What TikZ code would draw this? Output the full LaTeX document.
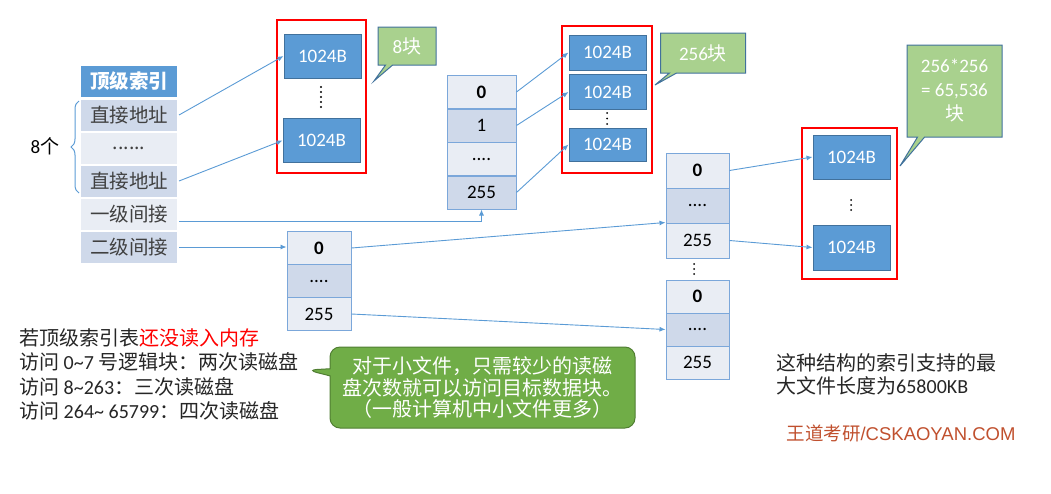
\documentclass[tikz,border=0pt]{standalone}
\usepackage{fontspec}
\setmainfont{Carlito}
\newfontfamily\cjk{Noto Sans CJK SC}
\newfontfamily\arial{Liberation Sans}
\usetikzlibrary{arrows.meta,shapes.callouts,decorations.pathreplacing,positioning}
\definecolor{blk}{HTML}{5B9BD5}
\definecolor{blkbd}{HTML}{41719C}
\definecolor{rowlite}{HTML}{E9EDF4}
\definecolor{rowdark}{HTML}{CFD9EA}
\definecolor{cellbd}{HTML}{7BA7DA}
\definecolor{notegreen}{HTML}{A9D18E}
\definecolor{tipgreen}{HTML}{70AD47}
\definecolor{tipbd}{HTML}{507E32}
\definecolor{wdred}{HTML}{C0502E}
\definecolor{ink}{HTML}{262626}
\begin{document}
\begin{tikzpicture}[x=1pt,y=-1pt,font=\fontsize{19}{23}\selectfont,
  idx/.style={draw=white,line width=2pt,minimum width=98,minimum height=33,inner sep=0,text=black!75,font=\fontsize{19.5}{23}\selectfont\cjk},
  cell/.style={draw=cellbd,line width=1pt,minimum width=#1,minimum height=33,inner sep=0,text=black},
  blkbox/.style={fill=blk,draw=blkbd,line width=1pt,minimum width=77,minimum height=44,inner sep=0,text=white},
  redbox/.style={draw=red,line width=2.5pt},
  arr/.style={blk,line width=0.9pt,-{Latex[length=6pt,width=5pt]}},
  note/.style={rectangle callout,fill=notegreen,draw=blkbd,line width=1pt,text=white,align=center,inner sep=0},
  vdot/.style={circle,fill=black,inner sep=0,minimum size=2.2pt}]
\useasboundingbox (0,0) rectangle (1051,493);
% top level index
\node[idx,fill=blk,text=white] (top) at (129,81.5) {\bfseries 顶级索引};
\node[idx,fill=rowdark] (d1) at (129,115) {直接地址};
\node[idx,fill=rowlite] (dd) at (129,148) {......};
\node[idx,fill=rowdark] (d2) at (129,181) {直接地址};
\node[idx,fill=rowlite] (ind1) at (129,214) {一级间接};
\node[idx,fill=rowdark] (ind2) at (129,247) {二级间接};
\draw[blk,line width=1pt,decorate,decoration={brace,amplitude=8pt}] (79,193) -- (79,101);
\node (cnt) at (45,146) {8{\cjk 个}};
% direct blocks
\draw[redbox] (277,20) rectangle (366,173);
\node[blkbox] (da) at (322.5,56) {1024B};
\node[blkbox] (db) at (321.5,140.5) {1024B};
\foreach \y in {87,92,...,107} \node[vdot] at (321,\y) {};
\node[note,minimum width=58,minimum height=38,callout absolute pointer={(374,81)}] (n8) at (407,46) {8{\cjk 块}};
% first level index block
\node[cell=69,fill=rowlite] (m0) at (481.5,92) {\bfseries 0};
\node[cell=69,fill=rowdark] (m1) at (481.5,125.5) {1};
\node[cell=69,fill=rowlite] (md) at (481.5,159) {....};
\node[cell=69,fill=rowdark] (m255) at (481.5,192.5) {255};
\draw[redbox] (562,26) rectangle (652,173);
\node[blkbox,minimum height=35] (ta) at (607.5,52.5) {1024B};
\node[blkbox,minimum height=35] (tb) at (607.5,92) {1024B};
\node[blkbox,minimum height=33] (tc) at (607.5,144.5) {1024B};
\foreach \y in {113,118.5,124} \node[vdot,minimum size=2pt] at (607,\y) {};
\node[note,minimum width=85,minimum height=40,callout absolute pointer={(655,85)}] (n256) at (703,53) {256{\cjk 块}};
% second level index blocks
\node[cell=64,fill=rowlite] (s0) at (319,248) {\bfseries 0};
\node[cell=64,fill=rowdark] (sd) at (319,281) {....};
\node[cell=64,fill=rowlite] (s255) at (319,314) {255};
\node[cell=63,minimum height=35,fill=rowlite] (r0) at (697.5,170.5) {\bfseries 0};
\node[cell=63,minimum height=35,fill=rowdark] (rd) at (697.5,205.5) {....};
\node[cell=63,minimum height=35,fill=rowlite] (r255) at (697.5,240.5) {255};
\foreach \y in {264,269,274} \node[vdot,minimum size=2pt] at (694,\y) {};
\node[cell=63,fill=rowlite] (q0) at (697.5,296.5) {\bfseries 0};
\node[cell=63,fill=rowdark] (qd) at (697.5,329.5) {....};
\node[cell=63,fill=rowlite] (q255) at (697.5,362.5) {255};
\draw[redbox] (802,128) rectangle (897,279);
\node[blkbox] (ca) at (851.5,157) {1024B};
\node[blkbox,minimum height=45] (cb) at (851.5,247.5) {1024B};
\foreach \y in {200,205,210} \node[vdot,minimum size=2pt] at (851,\y) {};
\node[note,minimum width=95,minimum height=92,font=\fontsize{19}{24}\selectfont,callout absolute pointer={(900,166)}] (nbig) at (954.5,91) {256*256\\= 65,536\\{\cjk 块}};
% connectors
\draw[arr] (d1.east) -- (da.west);
\draw[arr] (d2.east) -- (db.west);
\draw[arr] ([yshift=-7pt]ind1.east) -| (m255.south);
\draw[arr] (ind2.east) -- (ind2.east -| s0.west);
\draw[arr] (m0.east) -- (ta.west);
\draw[arr] (m1.east) -- (tb.west);
\draw[arr] (m255.east) -- (tc.west);
\draw[arr] (s0.east) -- (r255.north west);
\draw[arr] (s255.east) -- (qd.west);
\draw[arr] (r0.east) -- (ca.west);
\draw[arr] (r255.east) -- (cb.west);
% texts
\node[anchor=north west,align=left,inner sep=0,text=ink,font=\fontsize{20}{24.5}\selectfont] (txt) at (19,328)
  {{\cjk 若顶级索引表}{\cjk\color{red}还没读入内存}\\
   {\cjk 访问} 0\textasciitilde7 {\cjk 号逻辑块：两次读磁盘}\\
   {\cjk 访问} 8\textasciitilde263{\cjk ：三次读磁盘}\\
   {\cjk 访问} 264\textasciitilde{} 65799{\cjk ：四次读磁盘}};
\node[rectangle callout,rounded corners=10pt,fill=tipgreen,draw=tipbd,line width=1pt,text=white,align=center,
  minimum width=305,minimum height=81,inner sep=0,font=\fontsize{20}{21.5}\selectfont\cjk,
  callout absolute pointer={(307,370)}] (tip) at (482.5,387.5)
  {对于小文件，只需较少的读磁\\盘次数就可以访问目标数据块。\\（一般计算机中小文件更多）};
\node[anchor=north west,align=left,inner sep=0,text=ink,font=\fontsize{20}{23}\selectfont] (maxlen) at (776,353)
  {{\cjk 这种结构的索引支持的最}\\{\cjk 大文件长度为}65800KB};
\node[text=wdred,font=\fontsize{18.5}{22}\selectfont] (wd) at (901,433) {{\cjk 王道考研}{\arial /CSKAOYAN.COM}};
\end{tikzpicture}
\end{document}
